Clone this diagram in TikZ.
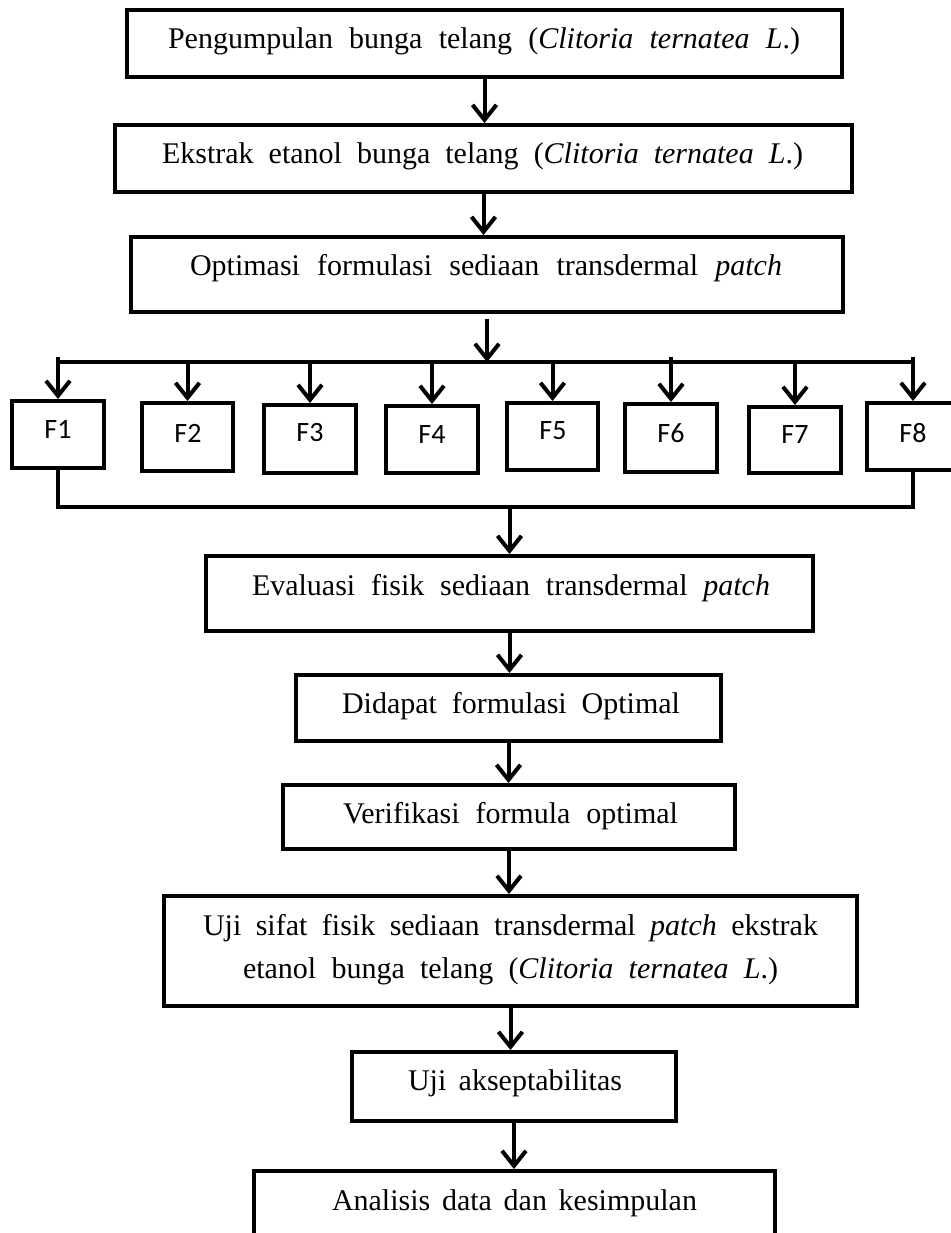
\documentclass[tikz,border=0pt]{standalone}
\usepackage{fontspec}
\setmainfont{Liberation Serif}
\newfontfamily\calfont{Carlito}
\usetikzlibrary{arrows.meta}
\newcommand\mkbox[5]{\node[boxst, minimum width={(#4-#2)*0.5pt}, minimum height={(#5-#3)*0.5pt}] (#1) at ({(#2+#4)/2},{(#3+#5)/2}) {};}
\newcommand\sw[2]{\makebox[#1][s]{#2}}
\begin{document}
\begin{tikzpicture}[x=0.5pt,y=-0.5pt,
  boxst/.style={draw=black, line width=2pt, rectangle, inner sep=0pt, fill=white},
  txt/.style={font=\fontsize{15pt}{22pt}\selectfont, inner sep=0pt, anchor=base},
  ftxt/.style={font=\calfont\fontsize{14pt}{17pt}\selectfont, inner sep=0pt, anchor=base},
  ln/.style={line width=2pt, line join=miter},
  arr/.style={line width=2pt, -{Straight Barb[length=7.5pt,width=12pt]}}]
\useasboundingbox[fill=white] (0,0) rectangle (950,1233);

% main boxes
\mkbox{b1}{127}{10}{842}{77}
\mkbox{b2}{115}{125}{852}{192}
\mkbox{b3}{131}{237}{843}{312}
\mkbox{b4}{206}{556}{813}{631}
\mkbox{b5}{296}{675}{721}{741}
\mkbox{b6}{283}{785}{735}{849}
\mkbox{b7}{164}{896}{857}{1006}
\mkbox{b8}{352}{1052}{676}{1121}
\mkbox{b9}{254}{1171}{775}{1260}

\node[txt] (t1) at (484,48) {\sw{316pt}{Pengumpulan bunga telang (\textit{Clitoria ternatea L}.)}};
\node[txt] (t2) at (482.5,163) {\sw{320.5pt}{Ekstrak etanol bunga telang (\textit{Clitoria ternatea L}.)}};
\node[txt] (t3) at (486,275) {\sw{296pt}{Optimasi formulasi sediaan transdermal \textit{patch}}};
\node[txt] (t4) at (511,595) {\sw{259pt}{Evaluasi fisik sediaan transdermal \textit{patch}}};
\node[txt] (t5) at (511,713) {\sw{169pt}{Didapat formulasi Optimal}};
\node[txt] (t6) at (510.5,823) {\sw{167.5pt}{Verifikasi formula optimal}};
\node[txt] (t7a) at (510.5,935) {\sw{307.5pt}{Uji sifat fisik sediaan transdermal \textit{patch} ekstrak}};
\node[txt] (t7b) at (510.5,978) {\sw{267.5pt}{etanol bunga telang (\textit{Clitoria ternatea L}.)}};
\node[txt] (t8) at (515,1090) {\sw{107pt}{Uji akseptabilitas}};
\node[txt] (t9) at (514.5,1210) {\sw{182.5pt}{Analisis data dan kesimpulan}};

% formula boxes
\mkbox{f1}{12}{401}{104}{468}
\mkbox{f2}{142}{403}{233}{471}
\mkbox{f3}{264}{405}{356}{473}
\mkbox{f4}{386}{406}{478}{473}
\mkbox{f5}{507}{403}{598}{470}
\mkbox{f6}{625}{404}{717}{472}
\mkbox{f7}{749}{407}{841}{473}
\mkbox{f8}{867}{403}{959}{470}

\node[ftxt] (l1) at (58,438) {F1};
\node[ftxt] (l2) at (188,442) {F2};
\node[ftxt] (l3) at (310,441) {F3};
\node[ftxt] (l4) at (432,443) {F4};
\node[ftxt] (l5) at (553,439) {F5};
\node[ftxt] (l6) at (671,442) {F6};
\node[ftxt] (l7) at (795,443) {F7};
\node[ftxt] (l8) at (913,442) {F8};

% connectors top
\draw[arr] (b1.south) -- (b1.south |- b2.north);
\draw[arr] (b2.south) -- (b2.south |- b3.north);
\coordinate (bus) at (0,362);
\coordinate (stub) at (0,357);
\coordinate (lbus) at (0,507);
\draw[arr, shorten <=2.5pt] (b3.south) -- (b3.south |- bus);
\draw[ln] (f1.north |- bus) -- (f8.north |- bus);
\draw[arr] (f1.north |- stub) -- (f1.north);
\draw[arr] (f2.north |- bus) -- (f2.north);
\draw[arr] (f3.north |- bus) -- (f3.north);
\draw[arr] (f4.north |- bus) -- (f4.north);
\draw[arr] (f5.north |- bus) -- (f5.north);
\draw[arr] (f6.north |- stub) -- (f6.north);
\draw[arr] (f7.north |- bus) -- (f7.north);
\draw[arr] (f8.north |- stub) -- (f8.north);

% lower bus
\draw[ln] (f1.south) -- (f1.south |- lbus) -- (f8.south |- lbus) -- (f8.south);
\draw[arr] (b4.north |- lbus) -- (b4.north);

% lower chain
\draw[arr] (b4.south) -- (b4.south |- b5.north);
\draw[arr] (b5.south) -- (b5.south |- b6.north);
\draw[arr] (b6.south) -- (b6.south |- b7.north);
\draw[arr] (b7.south) -- (b7.south |- b8.north);
\draw[arr] (b8.south) -- (b8.south |- b9.north);
\end{tikzpicture}
\end{document}
